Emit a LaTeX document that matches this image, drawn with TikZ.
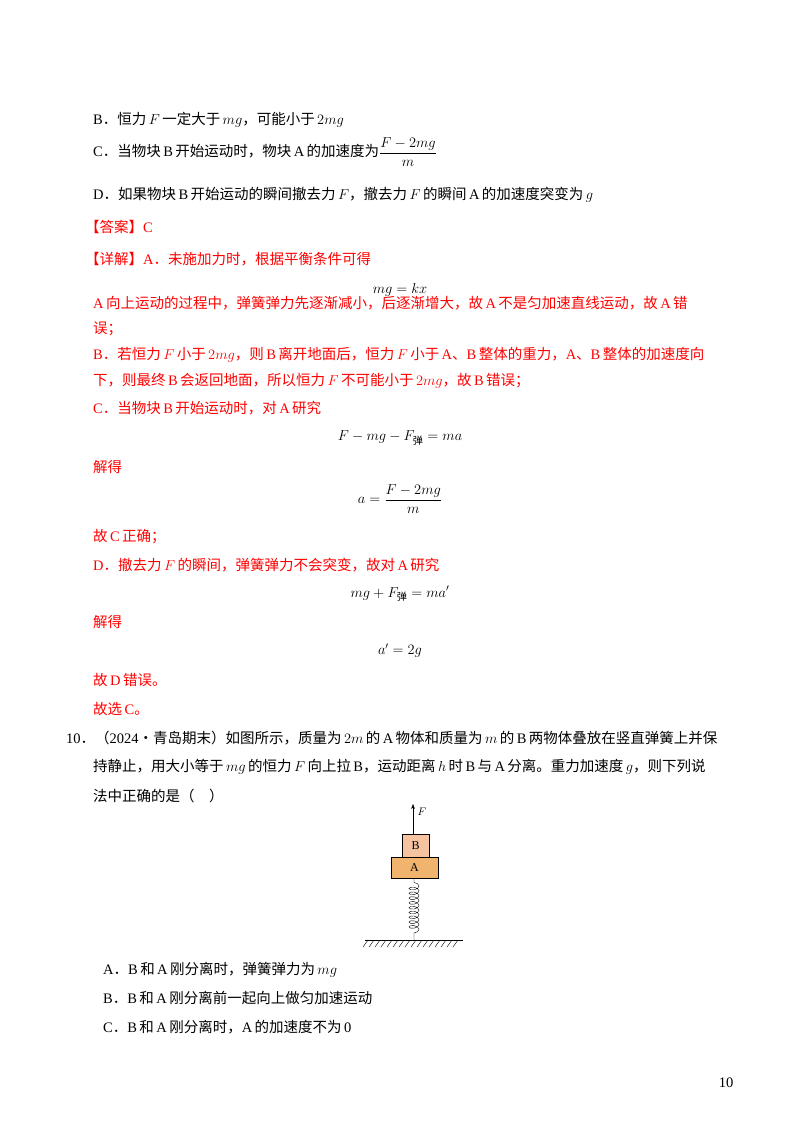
\documentclass[tikz,border=0pt]{standalone}
\usepackage{amsmath}
\usepackage{fontspec}
\setmainfont{Liberation Serif}
\newfontfamily\cjk{Noto Sans CJK SC}
\usetikzlibrary{decorations.pathmorphing,calc,arrows.meta}
\definecolor{ans}{RGB}{255,0,0}
\definecolor{boxA}{RGB}{240,180,110}
\definecolor{boxB}{RGB}{245,195,160}
\newcommand{\zh}[1]{{\cjk #1}}
\begin{document}
\begin{tikzpicture}[x=1pt,y=-1pt,
  ln/.style={anchor=west,inner sep=0pt,font=\fontsize{14.5}{17}\selectfont},
  red/.style={ln,text=ans},
  eq/.style={inner sep=0pt,font=\fontsize{14.5}{17}\selectfont}]
\useasboundingbox[fill=white] (0,0) rectangle (800,1132);
\node[ln] (l1) at (93,120) {B\zh{．恒力}\,$F$\,\zh{一定大于}\,$mg$\zh{，可能小于}\,$2mg$};
\node[ln] (l2) at (93,152) {C\zh{．当物块}\,B\,\zh{开始运动时，物块}\,A\,\zh{的加速度为}$\dfrac{F-2mg}{m}$};
\node[ln] (l3) at (93,195) {D\zh{．如果物块}\,B\,\zh{开始运动的瞬间撤去力}\,$F$\zh{，撤去力}\,$F$\,\zh{的瞬间}\,A\,\zh{的加速度突变为}\,$g$};
\node[red] (l4) at (85,227) {\zh{【答案】}C};
\node[red] (l5) at (85,259) {\zh{【详解】}A\zh{．未施加力时，根据平衡条件可得}};
\node[eq] (e1) at (400,290) {$mg=kx$};
\node[red] (l6) at (93,303) {A\,\zh{向上运动的过程中，弹簧弹力先逐渐减小，后逐渐增大，故}\,A\,\zh{不是匀加速直线运动，故}\,A\,\zh{错}};
\node[red] (l7) at (93,329) {\zh{误；}};
\node[red] (l8) at (93,355) {B\zh{．若恒力}\,$F$\,\zh{小于}\,$2mg$\zh{，则}\,B\,\zh{离开地面后，恒力}\,$F$\,\zh{小于}\,A\zh{、}B\,\zh{整体的重力，}A\zh{、}B\,\zh{整体的加速度向}};
\node[red] (l9) at (93,381) {\zh{下，则最终}\,B\,\zh{会返回地面，所以恒力}\,$F$\,\zh{不可能小于}\,$2mg$\zh{，故}\,B\,\zh{错误；}};
\node[red] (l10) at (93,408) {C\zh{．当物块}\,B\,\zh{开始运动时，对}\,A\,\zh{研究}};
\node[eq] (e2) at (400,438) {$F-mg-F_{\text{\zh{弹}}}=ma$};
\node[red] (l11) at (93,467) {\zh{解得}};
\node[eq] (e3) at (400,499) {$a=\dfrac{F-2mg}{m}$};
\node[red] (l12) at (93,537) {\zh{故}\,C\,\zh{正确；}};
\node[red] (l13) at (93,565) {D\zh{．撤去力}\,$F$\,\zh{的瞬间，弹簧弹力不会突变，故对}\,A\,\zh{研究}};
\node[eq] (e4) at (400,594) {$mg+F_{\text{\zh{弹}}}=ma'$};
\node[red] (l14) at (93,622) {\zh{解得}};
\node[eq] (e5) at (400,651) {$a'=2g$};
\node[red] (l15) at (93,680) {\zh{故}\,D\,\zh{错误。}};
\node[red] (l16) at (93,709) {\zh{故选}\,C\zh{。}};
\node[ln] (l17) at (66,738) {10\zh{．（}2024\zh{·青岛期末）如图所示，质量为}\,$2m$\,\zh{的}\,A\,\zh{物体和质量为}\,$m$\,\zh{的}\,B\,\zh{两物体叠放在竖直弹簧上并保}};
\node[ln] (l18) at (93,767) {\zh{持静止，用大小等于}\,$mg$\,\zh{的恒力}\,$F$\,\zh{向上拉}\,B\zh{，运动距离}\,$h$\,\zh{时}\,B\,\zh{与}\,A\,\zh{分离。重力加速度}\,$g$\zh{，则下列说}};
\node[ln] (l19) at (93,796) {\zh{法中正确的是（　）}};
% diagram
\node[draw,fill=boxB,minimum width=27pt,minimum height=23pt,inner sep=0pt,anchor=south,font=\fontsize{12}{12}\selectfont] (B) at (415.5,857) {B};
\node[draw,fill=boxA,minimum width=47pt,minimum height=21pt,inner sep=0pt,anchor=north,font=\fontsize{12}{12}\selectfont] (A) at (414.5,857) {A};
\coordinate (Ftip) at (413,804);
\draw[-{Stealth[length=5pt]}] (B.north -| Ftip) -- (Ftip) node[right=1pt,pos=0.75,font=\fontsize{11}{12}\selectfont] (Fl) {$F$};
\coordinate (gnd) at (414,940);
\draw (A.south -| gnd) -- ++(0,4) decorate[decoration={coil,amplitude=5pt,segment length=4.8pt,aspect=0.5}]{-- ($(gnd)+(0,-4)$)} -- (gnd);
\draw (365,940) -- (463,940);
\foreach \i in {0,...,15} \draw (368+6*\i,940) -- ++(-5,7);
\node[ln] (o1) at (103,970) {A\zh{．}B\,\zh{和}\,A\,\zh{刚分离时，弹簧弹力为}\,$mg$};
\node[ln] (o2) at (103,998) {B\zh{．}B\,\zh{和}\,A\,\zh{刚分离前一起向上做匀加速运动}};
\node[ln] (o3) at (103,1027) {C\zh{．}B\,\zh{和}\,A\,\zh{刚分离时，}A\,\zh{的加速度不为}\,0};
\node[eq] (pg) at (726,1083) {10};
\end{tikzpicture}
\end{document}
